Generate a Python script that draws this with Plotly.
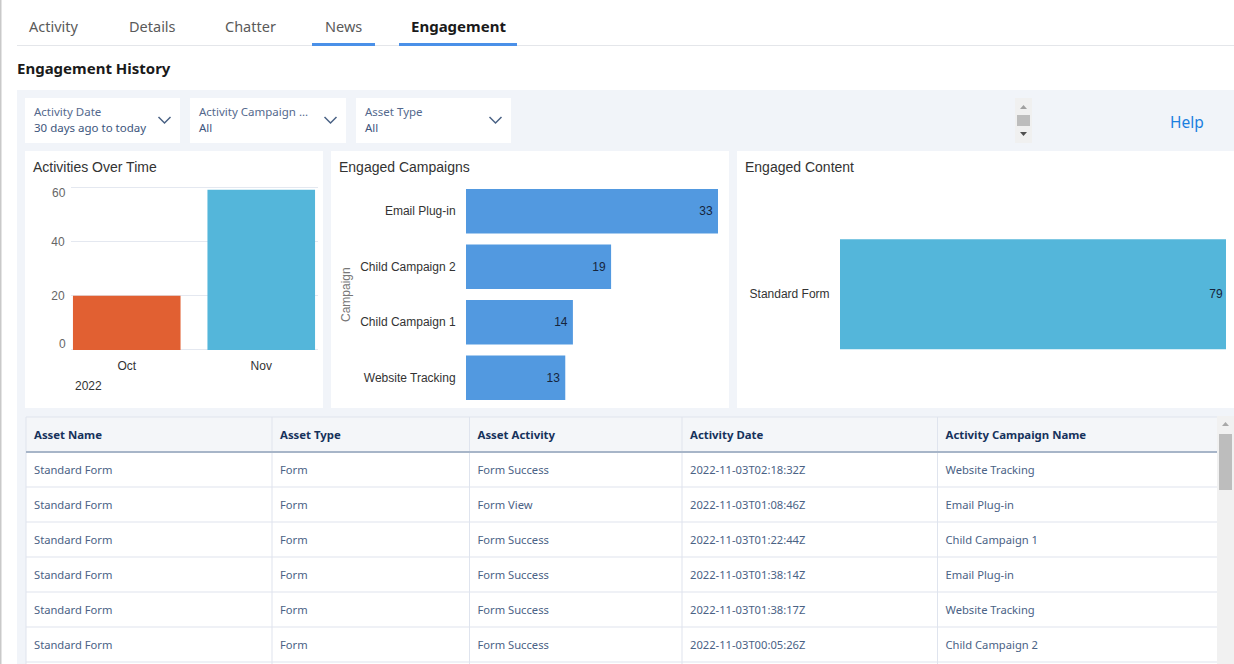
"""Engagement History dashboard: tabs, filter cards, three bar charts and a table."""

import plotly.graph_objects as go

W, H = 1234, 664

# ── Data ───────────────────────────────────────────────────────────────
tabs = ["Activity", "Details", "Chatter", "News", "Engagement"]

filter_labels = ["Activity Date", "Activity Campaign ...", "Asset Type"]
filter_values = ["30 days ago to today", "All", "All"]

months = ["Oct", "Nov"]
month_counts = [20, 59]
month_colors = ["#E16032", "#54B6DA"]
count_ticks = [0, 20, 40, 60]

campaigns = ["Email Plug-in", "Child Campaign 2", "Child Campaign 1", "Website Tracking"]
campaign_counts = [33, 19, 14, 13]

content_names = ["Standard Form"]
content_counts = [79]

table_headers = ["Asset Name", "Asset Type", "Asset Activity", "Activity Date", "Activity Campaign Name"]
asset_names = ["Standard Form"] * 6
asset_types = ["Form"] * 6
asset_activities = ["Form Success", "Form View", "Form Success", "Form Success", "Form Success", "Form Success"]
activity_dates = [
    "2022-11-03T02:18:32Z", "2022-11-03T01:08:46Z", "2022-11-03T01:22:44Z",
    "2022-11-03T01:38:14Z", "2022-11-03T01:38:17Z", "2022-11-03T00:05:26Z",
]
activity_campaigns = [
    "Website Tracking", "Email Plug-in", "Child Campaign 1",
    "Email Plug-in", "Website Tracking", "Child Campaign 2",
]

UI_FONT = "Noto Sans"
CHART_FONT = "Liberation Sans"
BAND = "#F1F4F9"
NAVY = "#16325C"
RULE = "#DFE4EE"
CLEAR = "rgba(0,0,0,0)"


# Page pixels to paper fractions
def px(x):
    return x / W


def py(y):
    return 1 - y / H


def xdom(a, b):
    return [px(a), px(b)]


def ydom(top, bottom):
    return [py(bottom), py(top)]


def rect(x0, y0, x1, y1, color, **kw):
    return dict(type="rect", xref="paper", yref="paper", x0=px(x0), x1=px(x1),
                y0=py(y0), y1=py(y1), fillcolor=color, line_width=0, **kw)


def path(points, color=None, line=None, width=1.5, **kw):
    d = "M" + " L".join(f"{px(x):.5f},{py(y):.5f}" for x, y in points)
    if color:
        d += " Z"
    return dict(type="path", xref="paper", yref="paper", path=d, fillcolor=color,
                line=dict(color=line, width=width if line else 0), **kw)


def label(x, y, text, size=12, color="#333333", family=UI_FONT, anchor="left", **kw):
    # annotations carry about 2px of padding on the left
    x = x - 2 if anchor == "left" else x
    return dict(xref="paper", yref="paper", x=px(x), y=py(y), text=text, showarrow=False,
                xanchor=anchor, yanchor="middle", align=anchor,
                font=dict(size=size, color=color, family=family), **kw)


fig = go.Figure()

# ── Charts ─────────────────────────────────────────────────────────────
fig.add_trace(go.Bar(
    x=months, y=month_counts, marker_color=month_colors, marker_line_width=0,
    xaxis="x", yaxis="y", hoverinfo="x+y",
))
fig.add_trace(go.Bar(
    x=campaign_counts, y=campaigns, orientation="h", marker_color="#5299E0", marker_line_width=0,
    texttemplate="%{x}\u2009", textposition="inside", insidetextanchor="end",
    textfont=dict(family=CHART_FONT, size=12, color="#16253C"),
    xaxis="x2", yaxis="y2",
))
fig.add_trace(go.Bar(
    x=content_counts, y=content_names, orientation="h", marker_color="#54B6DA", marker_line_width=0,
    text=content_counts, textposition="inside", insidetextanchor="end",
    textfont=dict(family=CHART_FONT, size=12, color="#16253C"),
    xaxis="x3", yaxis="y3",
))

# ── Table ──────────────────────────────────────────────────────────────
# go.Table pins text near the top of a cell, so the trace starts lower and its
# own lines and fills stay clear; the grid itself is drawn as shapes below.
fig.add_trace(go.Table(
    domain=dict(x=xdom(26, 1217), y=ydom(419, 664)),
    columnwidth=[246, 197.5, 212.5, 255.5, 279.5],
    header=dict(
        values=[f"<b>{h}</b>" for h in table_headers], height=39, align="left",
        fill_color=CLEAR, line_color=CLEAR,
        font=dict(family=UI_FONT, size=11.4, color=NAVY),
    ),
    cells=dict(
        values=[asset_names, asset_types, asset_activities, activity_dates, activity_campaigns],
        height=35, align="left", fill_color=CLEAR, line_color=CLEAR,
        font=dict(family=UI_FONT, size=11.2, color="#4A6285"),
    ),
))

# ── Page furniture ─────────────────────────────────────────────────────
shapes = [
    rect(0, 0, 1.5, H, "#C9C9C9", layer="below"),
    rect(17, 45, W, 46, "#E4E6EA", layer="below"),
    rect(312, 43, 375, 46, "#4A90E8", layer="below"),
    rect(399, 43, 517, 46, "#4A90E8", layer="below"),
    rect(17, 90, W, H, BAND, layer="below"),
    rect(25, 151, 323, 408, "white", layer="below"),
    rect(331, 151, 729, 408, "white", layer="below"),
    rect(737, 151, W, 408, "white", layer="below"),
    # small scroll widget in the filter bar
    rect(1015, 98, 1032, 143, "#F0F0F0", layer="below"),
    rect(1017, 115, 1030, 126, "#BDBDBD", layer="below"),
    path([(1020, 109), (1023.5, 105), (1027, 109)], color="#A0A0A0", layer="below"),
    path([(1020, 132), (1027, 132), (1023.5, 136)], color="#505050", layer="below"),
    # table body and header fill
    rect(26, 417, 1217, H, "white", layer="below"),
    rect(26, 417, 1217, 451, "#F4F6F9", layer="below"),
]

# table grid
for y in [417, 487, 522, 557, 592, 627, 662]:
    shapes.append(rect(26, y - 0.5, 1217, y + 0.5, RULE, layer="below"))
for x in [26, 272, 469.5, 682, 937.5]:
    shapes.append(rect(x - 0.5, 417, x + 0.5, H, RULE, layer="below"))

shapes += [
    rect(26, 451, 1217, 453, "#A7B5C8"),
    # table scrollbar
    rect(1217, 416, W, H, "#F1F1F1"),
    rect(1219, 434, 1232, 490, "#BDBDBD"),
    path([(1222, 426), (1225.5, 422), (1229, 426)], color="#A8A8A8"),
]

annotations = []

tab_x = [29, 129, 225, 325, 411]
for name, x in zip(tabs, tab_x):
    if name == "Engagement":
        annotations.append(label(x, 26, f"<b>{name}</b>", size=15, color="#1A1A1A"))
    else:
        annotations.append(label(x, 26, name, size=14.5, color="#5A5A5A"))
annotations.append(label(17, 68, "<b>Engagement History</b>", size=15, color="#1A1A1A"))

card_spans = [(25, 180), (190, 346), (356, 511)]
for (x0, x1), top, value in zip(card_spans, filter_labels, filter_values):
    shapes.append(rect(x0, 98, x1, 143, "white", layer="below"))
    annotations.append(label(x0 + 9, 112, top, size=11.5, color="#54698D"))
    annotations.append(label(x0 + 9, 128, value, size=11.5, color="#3C557C"))
    cx = x1 - 15.5
    shapes.append(path([(cx - 6, 117), (cx, 123), (cx + 6, 117)], line="#4A6285"))

annotations.append(label(1187, 122, "Help", size=15.5, color="#1B7FE0", anchor="center"))

annotations.append(label(33, 167, "Activities Over Time", size=14, family=CHART_FONT))
annotations.append(label(339, 167, "Engaged Campaigns", size=14, family=CHART_FONT))
annotations.append(label(745, 167, "Engaged Content", size=14, family=CHART_FONT))
annotations.append(label(75, 386, "2022", size=12, family=CHART_FONT))

# the end ticks sit inset from their gridlines
annotations.append(dict(xref="paper", yref="y", x=px(68), y=count_ticks[-1], yshift=-6, text=str(count_ticks[-1]),
                        showarrow=False, xanchor="right", font=dict(size=12, color="#666666", family=CHART_FONT)))
annotations.append(dict(xref="paper", yref="y", x=px(68), y=count_ticks[0], yshift=6, text=str(count_ticks[0]),
                        showarrow=False, xanchor="right", font=dict(size=12, color="#666666", family=CHART_FONT)))
annotations.append(label(346, 295, "Campaign", size=12, color="#777777", family=CHART_FONT,
                         anchor="center", textangle=-90))

hidden = dict(showgrid=False, zeroline=False, showticklabels=False, showline=False, ticks="")

fig.update_layout(
    width=W, height=H,
    margin=dict(l=0, r=0, t=0, b=0),
    paper_bgcolor="white", plot_bgcolor=CLEAR,
    showlegend=False,
    bargap=0.2,
    shapes=shapes,
    annotations=annotations,
    font=dict(family=CHART_FONT, size=12, color="#333333"),
    xaxis=dict(
        domain=xdom(71, 318), type="category", range=[-0.4145, 1.4219],
        showgrid=False, zeroline=False, showline=False,
        ticks="outside", ticklen=4, tickcolor=CLEAR,
        tickfont=dict(size=12, color="#333333"),
    ),
    yaxis=dict(
        # one pixel of slack each way so the 0 and 60 gridlines are kept
        domain=ydom(186, 351), range=[-0.37, 60.37],
        tickvals=count_ticks, ticktext=["", "20", "40", ""],
        gridcolor="#E4E8F0", gridwidth=1, zeroline=False, showline=False,
        ticks="outside", ticklen=3, tickcolor=CLEAR,
        tickfont=dict(size=12, color="#666666"),
    ),
    xaxis2=dict(domain=xdom(466, 718), range=[0, 33], anchor="y2", **hidden),
    yaxis2=dict(
        domain=ydom(183.5, 405.5), anchor="x2", type="category", autorange="reversed",
        showgrid=False, zeroline=False, showline=False,
        ticks="outside", ticklen=7, tickcolor=CLEAR,
        tickfont=dict(size=12, color="#333333"),
    ),
    xaxis3=dict(domain=xdom(840, 1226), range=[0, 79], anchor="y3", **hidden),
    yaxis3=dict(
        domain=ydom(225.5, 363), anchor="x3", type="category",
        showgrid=False, zeroline=False, showline=False,
        ticks="outside", ticklen=7, tickcolor=CLEAR,
        tickfont=dict(size=12, color="#333333"),
    ),
)

fig.write_html("out.html", config=dict(displayModeBar=False),
               post_script="document.body.style.margin='0';")
